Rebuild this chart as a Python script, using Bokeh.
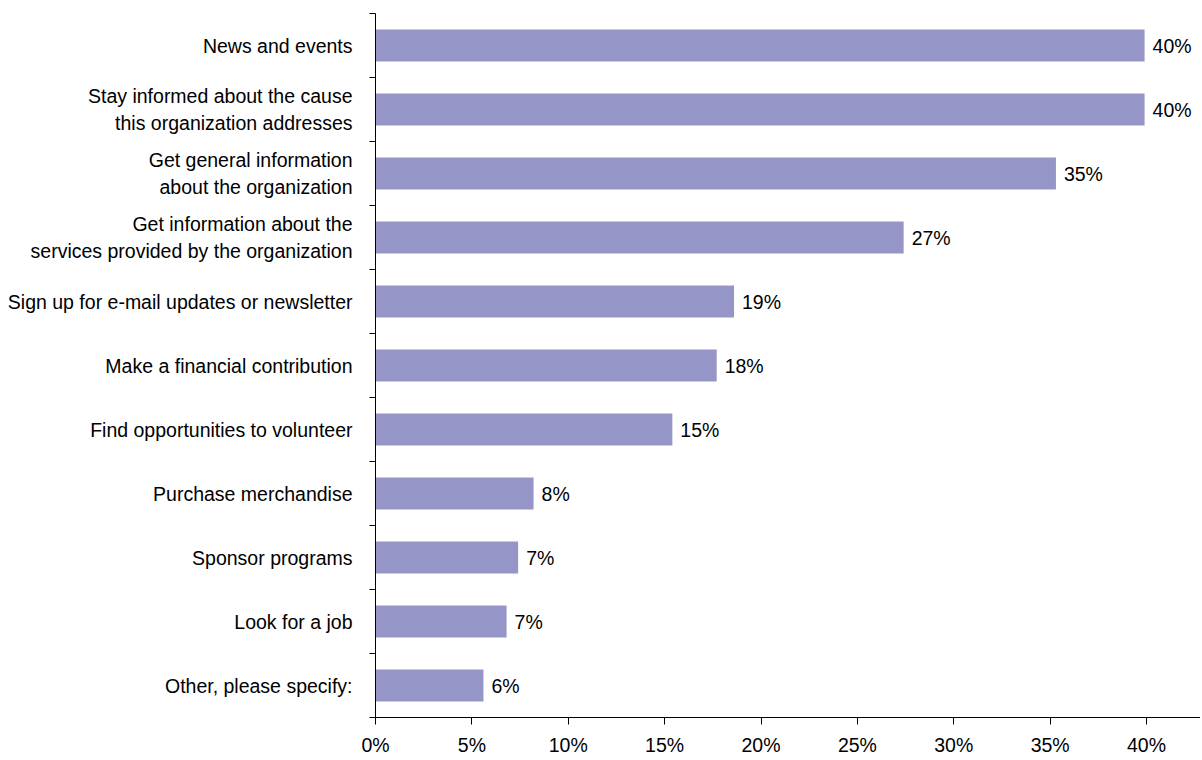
from bokeh.plotting import figure
from bokeh.models import FixedTicker, ColumnDataSource, PrintfTickFormatter
from bokeh.core.properties import value
from bokeh.embed import file_html
from bokeh.resources import INLINE

categories = [
    "News and events",
    "Stay informed about the cause\nthis organization addresses",
    "Get general information\nabout the organization",
    "Get information about the\nservices provided by the organization",
    "Sign up for e-mail updates or newsletter",
    "Make a financial contribution",
    "Find opportunities to volunteer",
    "Purchase merchandise",
    "Sponsor programs",
    "Look for a job",
    "Other, please specify:",
]
values = [39.9, 39.9, 35.3, 27.4, 18.6, 17.7, 15.4, 8.2, 7.4, 6.8, 5.6]
value_labels = ["40%", "40%", "35%", "27%", "19%", "18%", "15%", "8%", "7%", "7%", "6%"]
x_ticks = [0, 5, 10, 15, 20, 25, 30, 35, 40]

FONT = "Liberation Sans"
FS = "19.5px"
n = len(categories)
ypos = [n - 1 - i + 0.5 for i in range(n)]

src = ColumnDataSource(dict(y=ypos, v=values, lab=value_labels))

p = figure(width=1200, height=758, output_backend="svg", toolbar_location=None,
           x_range=(0, 42.8), y_range=(0, n),
           min_border_left=375, min_border_right=0, min_border_top=13, min_border_bottom=40)
p.outline_line_color = None
p.grid.visible = False
p.background_fill_color = "white"

p.hbar(y="y", right="v", left=0, height=0.5, source=src,
       fill_color="#9595C8", line_color=None)
p.text(x="v", y="y", text="lab", source=src, x_offset=8,
       text_align="left", text_baseline="middle",
       text_font=value(FONT), text_font_size=FS, text_color="black")

# y axis: labels at centres, ticks at boundaries
ya = p.yaxis[0]
ya.ticker = FixedTicker(ticks=ypos, minor_ticks=list(range(n + 1)))
ya.major_label_overrides = {y: c for y, c in zip(ypos, categories)}
ya.major_tick_out = 0
ya.major_tick_in = 0
ya.minor_tick_out = 6
ya.minor_tick_in = 0
ya.minor_tick_line_color = "black"
ya.axis_line_color = "black"
ya.major_label_standoff = 17
ya.major_label_text_font = FONT
ya.major_label_text_font_size = FS
ya.major_label_text_color = "black"

xa = p.xaxis[0]
xa.ticker = FixedTicker(ticks=x_ticks, minor_ticks=[])
xa.formatter = PrintfTickFormatter(format="%d%%")
xa.major_tick_out = 7
xa.major_tick_in = 0
xa.minor_tick_out = 0
xa.minor_tick_in = 0
xa.axis_line_color = "black"
xa.major_tick_line_color = "black"
xa.major_label_standoff = 9
xa.major_label_text_font = FONT
xa.major_label_text_font_size = FS
xa.major_label_text_color = "black"

open("out.html", "w").write(file_html(p, INLINE))
